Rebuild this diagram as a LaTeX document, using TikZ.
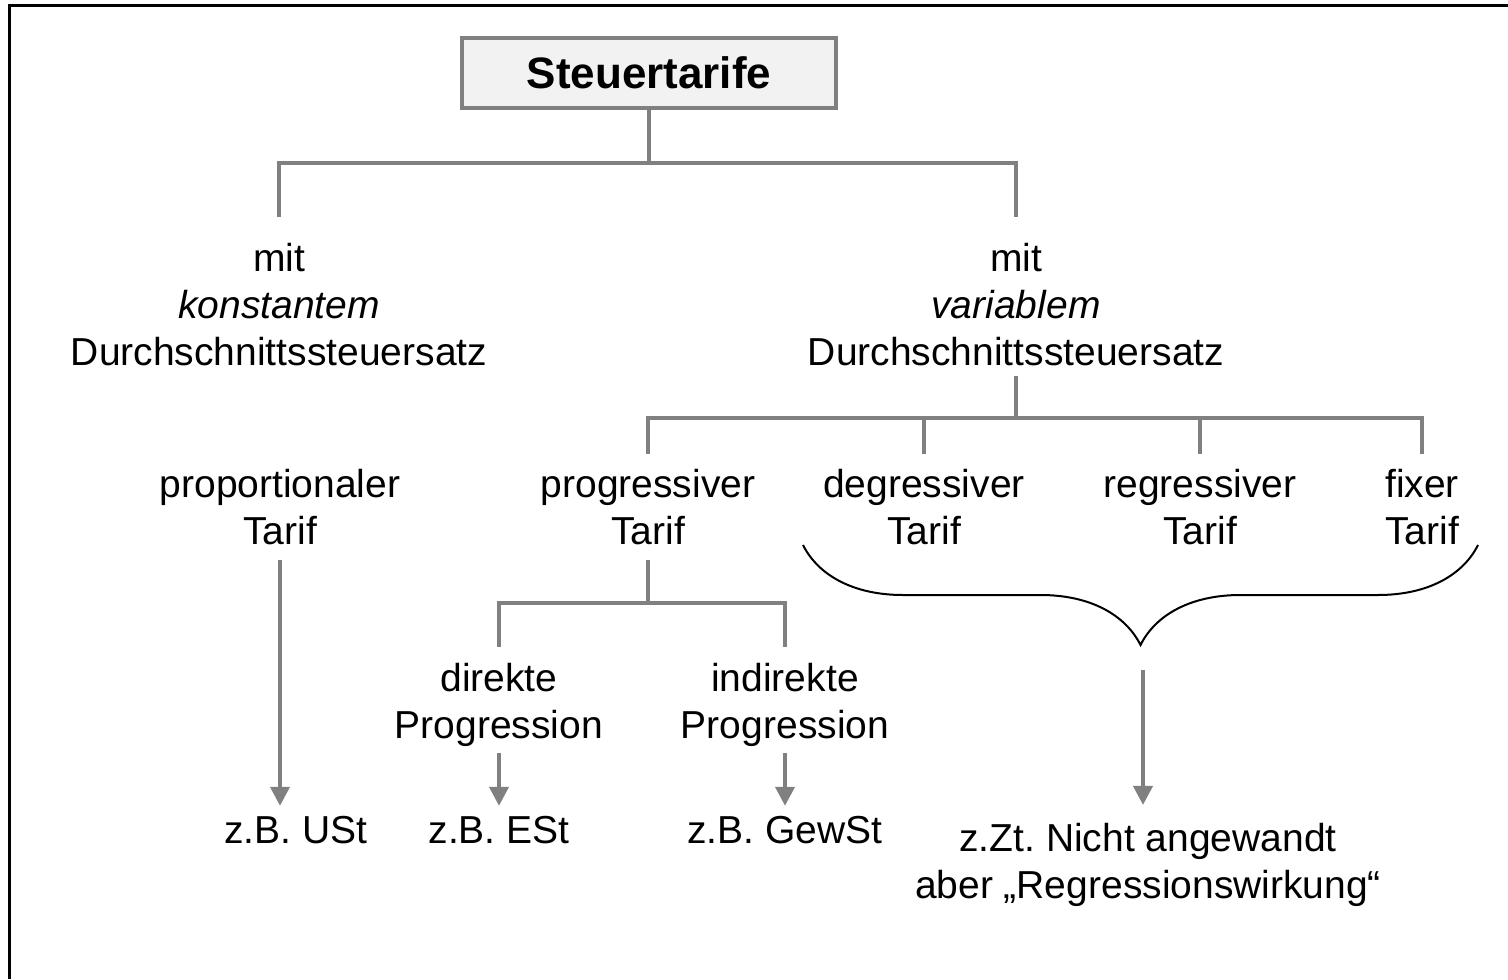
\documentclass[tikz,border=0pt]{standalone}
\usepackage{fontspec}
\setmainfont{Liberation Sans}
\usetikzlibrary{arrows.meta,decorations.pathreplacing}
\frenchspacing

\definecolor{liniengrau}{RGB}{128,128,128}
\definecolor{kastengrau}{RGB}{242,242,242}

\tikzset{
  conn/.style={draw=liniengrau, line width=2pt},
  arr/.style={conn, -{Triangle[length=9.5pt,width=9.5pt]}},
  txt/.style={align=center, inner sep=0pt, font=\fontsize{19.5}{23.5}\selectfont},
  rootbox/.style={draw=liniengrau, line width=2pt, fill=kastengrau,
    minimum width=187pt, minimum height=35pt,
    font=\fontsize{22}{26}\selectfont\bfseries},
  klammer/.style={decorate, decoration={brace, amplitude=50pt}, line width=1pt}
}

\begin{document}
\begin{tikzpicture}[x=0.5pt, y=-0.5pt]
  \useasboundingbox (0,0) rectangle (1508,979);
  % Rahmen (nur oben und links sichtbar)
  \draw[line width=1.5pt] (9,979) -- (9,6) -- (1508,6);

  % Knoten
  \node[rootbox] (root) at (649,73) {Steuertarife};
  \node[txt] (konst) at (279,305) {mit\\\textit{konstantem}\\Durchschnittssteuersatz};
  \node[txt] (var) at (1016,305) {mit\\\textit{variablem}\\Durchschnittssteuersatz};

  \node[txt] (prop) at (280,507) {proportionaler\\Tarif};
  \node[txt] (progr) at (648,507) {progressiver\\Tarif};
  \node[txt] (degr) at (924,507) {degressiver\\Tarif};
  \node[txt] (regr) at (1200,507) {regressiver\\Tarif};
  \node[txt] (fix) at (1422,507) {fixer\\Tarif};

  \node[txt] (direkt) at (499,705) {direkte\\Progression};
  \node[txt] (indirekt) at (785,705) {indirekte\\Progression};

  \node[txt] (ust) at (296,830) {z.B. USt};
  \node[txt] (est) at (499,830) {z.B. ESt};
  \node[txt] (gewst) at (785,830) {z.B. GewSt};
  \node[txt] (keine) at (1148,865) {z.Zt. Nicht angewandt\\aber „Regressionswirkung“};

  % Verzweigungen
  \coordinate (s1) at (649,163);
  \coordinate (s2) at (1016,418);
  \coordinate (s3) at (648,603);

  \draw[conn] (root.south) -- (s1);
  \draw[conn, shorten <=13pt, shorten >=13pt] (konst.north) |- (s1) -| (var.north);

  \draw[conn, shorten <=4.5pt] (var.south) -- (s2);
  \draw[conn, shorten <=7.5pt, shorten >=7.5pt] (progr.north) |- (s2) -| (fix.north);
  \draw[conn, shorten >=7.5pt] (s2 -| degr.north) -- (degr.north);
  \draw[conn, shorten >=7.5pt] (s2 -| regr.north) -- (regr.north);

  \draw[conn, shorten <=7.5pt] (progr.south) -- (s3);
  \draw[conn, shorten <=8pt, shorten >=8pt] (direkt.north) |- (s3) -| (indirekt.north);

  % Klammer ueber degressiv bis fix
  \coordinate (kl) at (803,545);
  \coordinate (kr) at (1478,545);
  \coordinate (spitze) at (1143,645);
  \draw[klammer] (kr) -- (kl);

  % Pfeile zu den Beispielen
  \draw[arr, shorten <=7.5pt, shorten >=5pt] (prop.south) -- (prop.south |- ust.north);
  \draw[arr, shorten <=3pt, shorten >=5pt] (direkt.south) -- (direkt.south |- est.north);
  \draw[arr, shorten <=3pt, shorten >=5pt] (indirekt.south) -- (indirekt.south |- gewst.north);
  \draw[arr, shorten <=12.5pt, shorten >=9pt] (spitze) -- (spitze |- keine.north);
\end{tikzpicture}
\end{document}
